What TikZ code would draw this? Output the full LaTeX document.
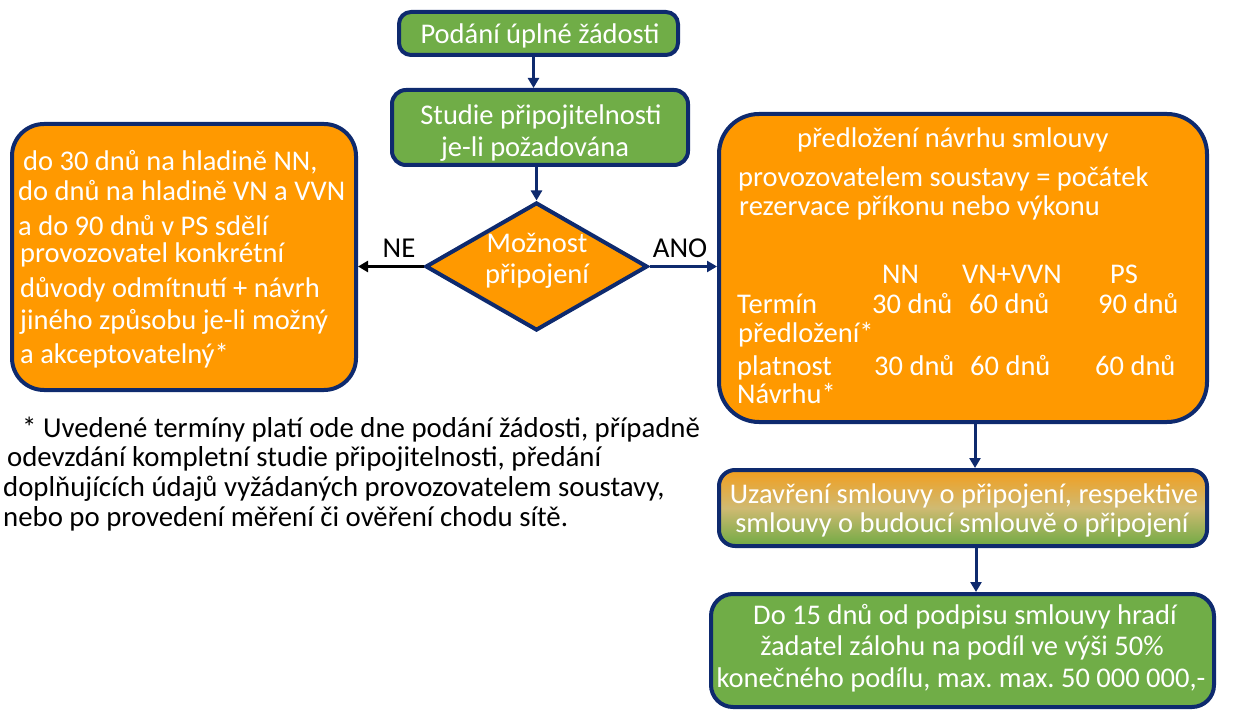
\documentclass[tikz,border=0pt]{standalone}
\usepackage{fontspec}
\setmainfont{Carlito}
\usetikzlibrary{shapes.geometric,arrows.meta}
\definecolor{navy}{HTML}{0E2A6E}
\definecolor{boxgreen}{HTML}{70AD47}
\definecolor{boxorange}{HTML}{FF9900}
\definecolor{gtop}{HTML}{F29E1E}
\definecolor{gmid}{HTML}{CFBA72}
\definecolor{gbot}{HTML}{70AA44}
\frenchspacing
\begin{document}
\begin{tikzpicture}[x=1pt,y=-1pt,
  box/.style={draw=navy, line width=4pt, rounded corners=#1, inner sep=0pt},
  box/.default=12pt,
  wt/.style={text=white, font=\fontsize{28.5}{31}\selectfont, inner sep=0pt, anchor=base west},
  wc/.style={wt, anchor=base},
  bt/.style={text=black, font=\fontsize{28.8}{31}\selectfont, inner sep=0pt, anchor=base west},
  conn/.style={line width=3pt, -{Triangle[length=10pt,width=11pt]}},
]
\useasboundingbox (0,0) rectangle (1248,711);

% boxes
\node[box=12pt, fill=boxgreen, minimum width=279, minimum height=43] (b1) at (538.5,33.5) {};
\node[box=14pt, fill=boxgreen, minimum width=296, minimum height=75] (b2) at (540,127.5) {};
\node[diamond, draw=navy, line width=4pt, fill=boxorange, inner sep=0pt, minimum width=222, minimum height=128] (d) at (536.5,266.5) {};
\node[box=32pt, fill=boxorange, minimum width=344, minimum height=266] (L) at (184,257) {};
\node[box=40pt, fill=boxorange, minimum width=488, minimum height=308] (R) at (963,268) {};
\node[box=16pt, top color=gtop, bottom color=gbot, middle color=gmid, minimum width=488, minimum height=76] (G) at (963,508) {};
\node[box=22pt, fill=boxgreen, minimum width=503, minimum height=113] (B) at (962.5,650.5) {};

% texts in top boxes
\node[wc] (t1) at (540,44) {Podání úplné žádosti};
\node[wc] (t2a) at (541,125) {Studie připojitelnosti};
\node[wc] (t2b) at (535,157) {je-li požadována};
\node[wc] (td1) at (537,253) {Možnost};
\node[wc] (td2) at (537,284) {připojení};

% left box text
\node[wt] (l1) at (23,171) {do 30 dnů na hladině NN,};
\node[wt] (l2) at (18,201) {do dnů na hladině VN a VVN};
\node[wt] (l3) at (18,236) {a do 90 dnů v PS sdělí};
\node[wt] (l4) at (20,263) {provozovatel konkrétní};
\node[wt] (l5) at (20,298) {důvody odmítnutí + návrh};
\node[wt] (l6) at (20,330) {jiného způsobu je-li možný};
\node[wt] (l7) at (20,363) {a akceptovatelný*};

% right box text
\node[wt] (r1) at (797,148) {předložení návrhu smlouvy};
\node[wt] (r2) at (738,187) {provozovatelem soustavy = počátek};
\node[wt] (r3) at (739,216) {rezervace příkonu nebo výkonu};
\node[wt] (h1) at (882,284) {NN};
\node[wt] (h2) at (962,284) {VN+VVN};
\node[wt] (h3) at (1110,284) {PS};
\node[wt] (r4) at (737,314) {Termín};
\node[wt] (v11) at (872,314) {30 dnů};
\node[wt] (v12) at (969,314) {60 dnů};
\node[wt] (v13) at (1098,314) {90 dnů};
\node[wt] (r5) at (738,343) {předložení*};
\node[wt] (r6) at (737,375) {platnost};
\node[wt] (v21) at (874,375) {30 dnů};
\node[wt] (v22) at (970,375) {60 dnů};
\node[wt] (v23) at (1095,375) {60 dnů};
\node[wt] (r7) at (737,403) {Návrhu*};

% gradient box text
\node[wc] (g1) at (964,503) {Uzavření smlouvy o připojení, respektive};
\node[wc] (g2) at (962,532) {smlouvy o budoucí smlouvě o připojení};

% bottom box text
\node[wc] (bb1) at (965,624) {Do 15 dnů od podpisu smlouvy hradí};
\node[wc] (bb2) at (962,655) {žadatel zálohu na podíl ve výši 50\%};
\node[wc] (bb3) at (961,687) {konečného podílu, max. max. 50 000 000,-};

% footnote
\node[bt] (f1) at (22,437) {* Uvedené termíny platí ode dne podání žádosti, případně};
\node[bt] (f2) at (7,466) {odevzdání kompletní studie připojitelnosti, předání};
\node[bt] (f3) at (3,496) {doplňujících údajů vyžádaných provozovatelem soustavy,};
\node[bt] (f4) at (3,526) {nebo po provedení měření či ověření chodu sítě.};

% connectors
\draw[conn, navy] ([xshift=-5pt]b1.south) -- ([xshift=-5pt]b1.south |- b2.north);
\draw[conn, navy] (b2.south -| d.north) -- (d.north);
\draw[conn, black] (d.west) -- (d.west -| L.east);
\draw[conn, navy] (d.east) -- (d.east -| R.west);
\draw[conn, navy] ([xshift=12pt]R.south) -- ([xshift=12pt]R.south |- G.north);
\draw[conn, navy] ([xshift=13pt]G.south) -- ([xshift=13pt]G.south |- B.north);

% branch labels
\node[bt, anchor=base] (ne) at (399,258) {NE};
\node[bt, anchor=base] (ano) at (680,258) {ANO};
\end{tikzpicture}
\end{document}
